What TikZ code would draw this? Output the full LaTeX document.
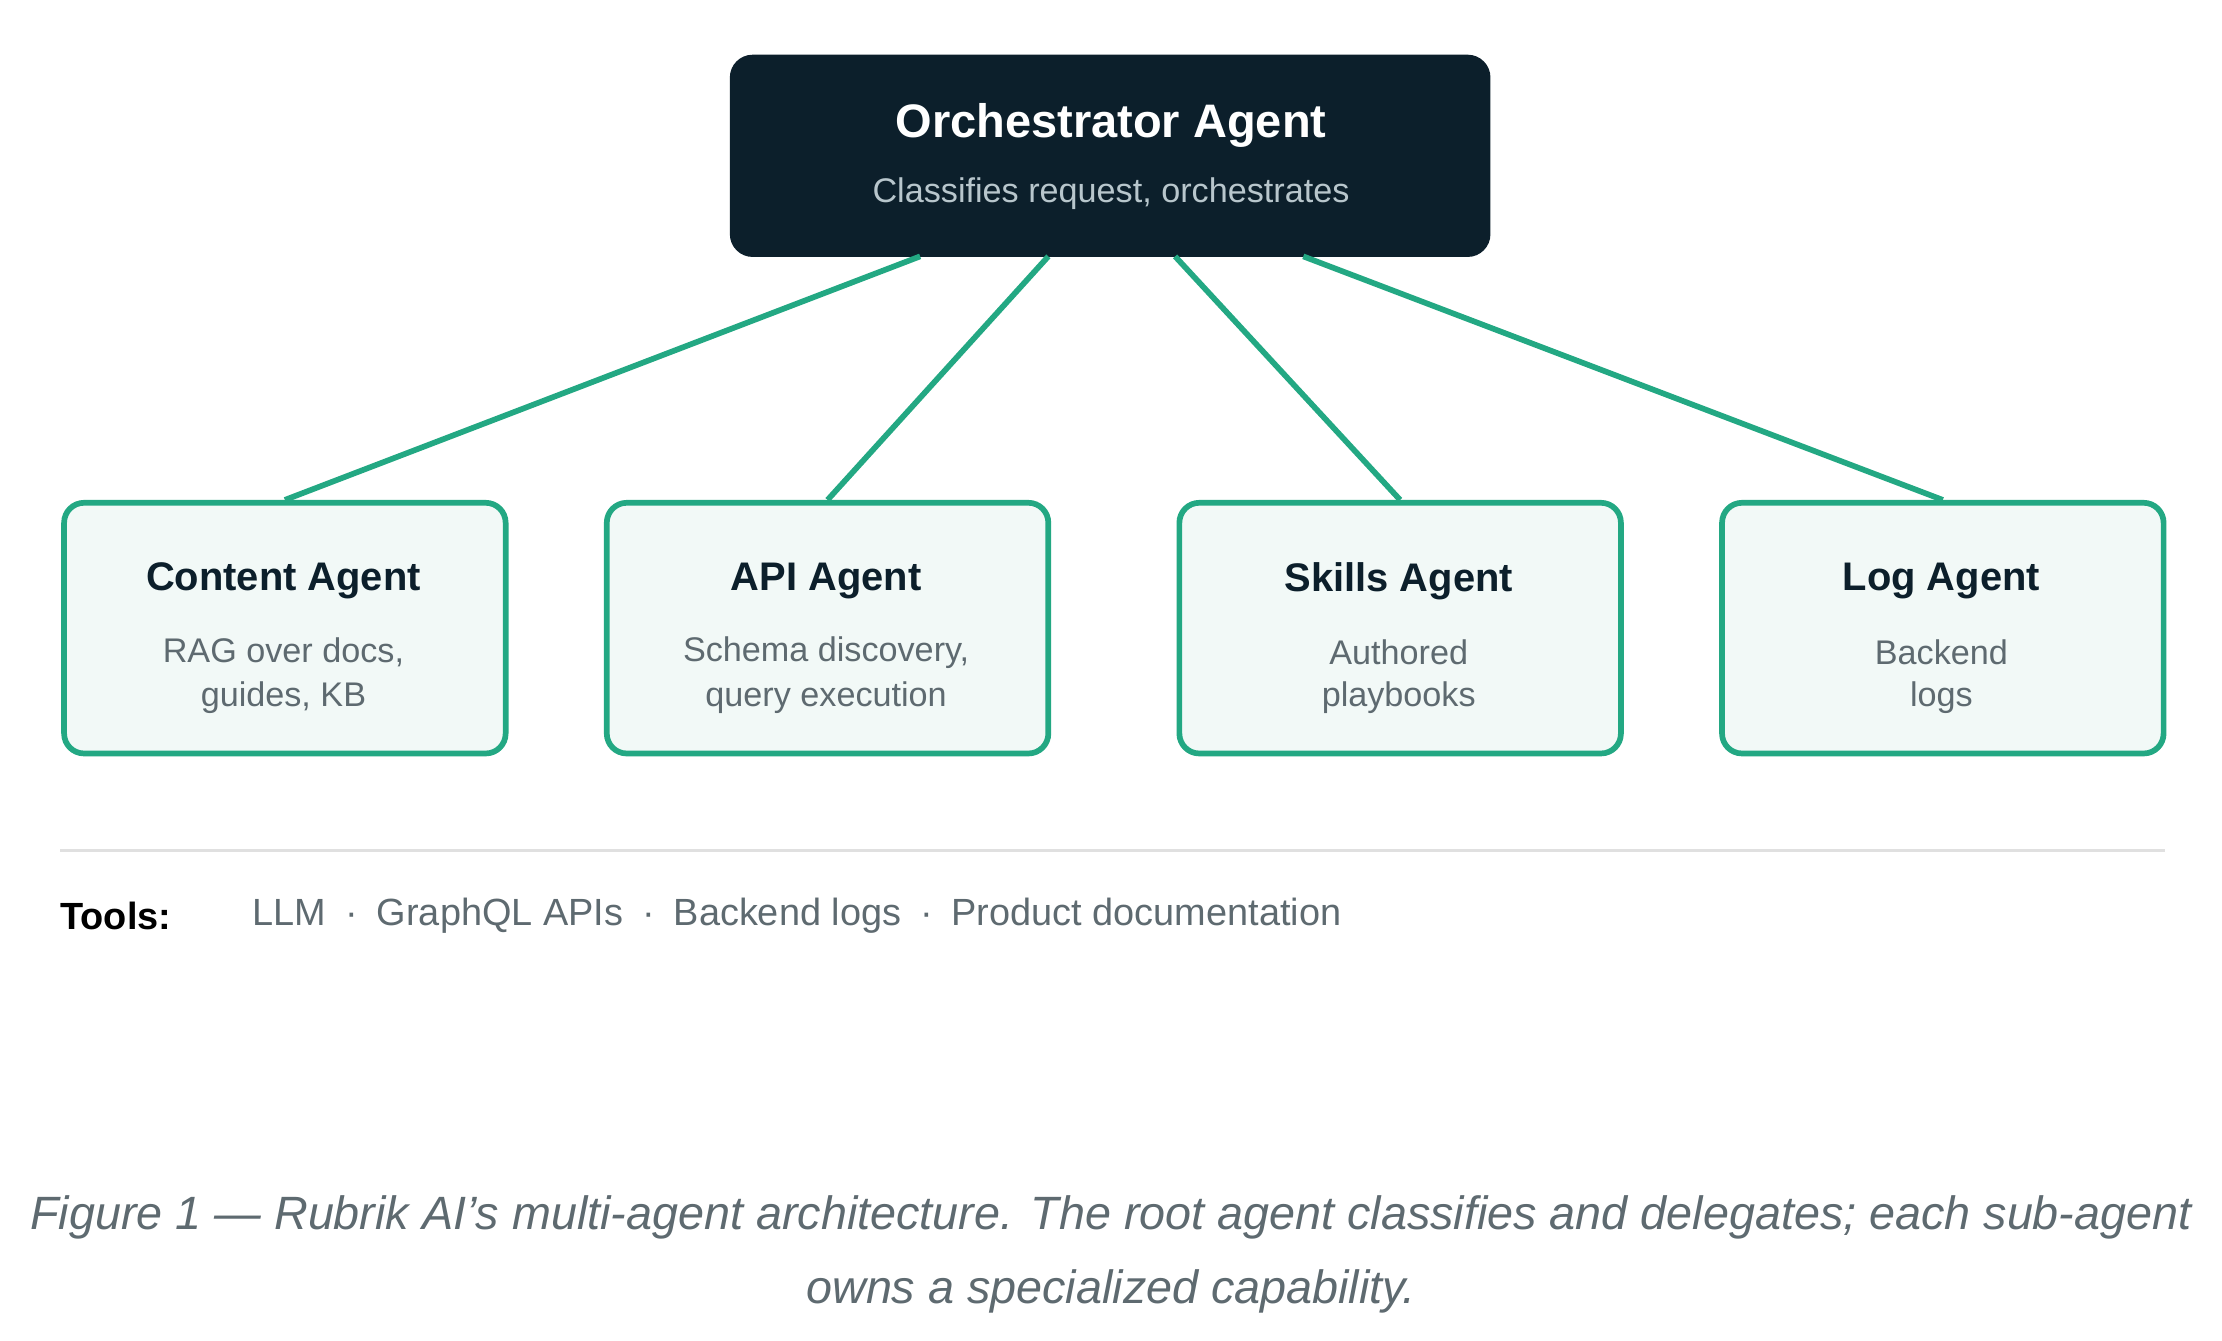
\documentclass[tikz,border=0pt]{standalone}
\usepackage{fontspec}
\setmainfont{Liberation Sans}
\definecolor{dark}{HTML}{0C1F2B}
\definecolor{grn}{HTML}{23A883}
\definecolor{lfill}{HTML}{F2F9F7}
\definecolor{gtxt}{HTML}{5E6A70}
\definecolor{sub}{HTML}{B8C6CC}
\begin{document}
\begin{tikzpicture}[x=0.5pt,y=-0.5pt,
  child/.style={draw=grn,line width=2pt,fill=lfill,rounded corners=7pt,minimum width=155pt,minimum height=88pt,anchor=north west,inner sep=0},
  conn/.style={grn,line width=2pt},
  ttl/.style={font=\fontsize{14}{16}\selectfont\bfseries,text=dark},
  dsc/.style={font=\fontsize{12}{16}\selectfont,text=gtxt,align=center}]
\useasboundingbox (0,0) rectangle (1560,941);
\node[fill=dark,rounded corners=8pt,minimum width=267pt,minimum height=71pt,anchor=north west,inner sep=0] (orc) at (512,38) {};
\node[font=\fontsize{16.5}{18}\selectfont\bfseries,text=white] (ot) at (780,88) {Orchestrator Agent};
\node[font=\fontsize{12}{14}\selectfont,text=sub] (os) at (780,136) {Classifies request, orchestrates};
\foreach \n/\x/\t/\a/\b in {c/42/{Content Agent}/{RAG over docs,}/{guides, KB}, a/423/{API Agent}/{Schema discovery,}/{query execution}, s/825/{Skills Agent}/{Authored}/{playbooks}, l/1206/{Log Agent}/{Backend}/{logs}}{
  \node[child] (\n) at (\x+1,351) {};
  \node[ttl] (\n t) at (\x+157,408) {\t};
  \node[dsc] (\n 1) at (\x+157,458) {\a};
  \node[dsc] (\n 2) at (\x+157,490) {\b};
}
\coordinate (o1) at (646,180); \coordinate (o2) at (736,180);
\coordinate (o3) at (825,180); \coordinate (o4) at (915,180);
\draw[conn] (o1) -- (c.north); \draw[conn] (o2) -- (a.north);
\draw[conn] (o3) -- (s.north); \draw[conn] (o4) -- (l.north);
\coordinate (s1) at (42,597); \coordinate (s2) at (1520,597);
\draw[black!12,line width=1pt] (s1) -- (s2);
\node[anchor=west,font=\fontsize{13.3}{16}\selectfont\bfseries,text=black,inner sep=0] (tl) at (42,643) {Tools:};
\node[anchor=west,font=\fontsize{13.3}{16}\selectfont,text=gtxt,inner sep=0] (ti) at (177,643) {LLM\enspace·\enspace GraphQL APIs\enspace·\enspace Backend logs\enspace·\enspace Product documentation};
\node[font=\fontsize{16.4}{26}\selectfont\itshape,text=gtxt,align=center] (cap) at (780,881) {Figure 1 — Rubrik AI's multi-agent architecture. The root agent classifies and delegates; each sub-agent\\owns a specialized capability.};
\end{tikzpicture}
\end{document}
